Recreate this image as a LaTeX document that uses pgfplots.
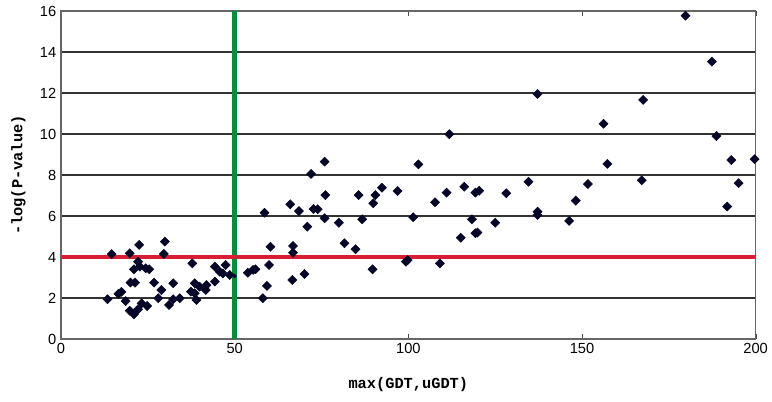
\documentclass[border=0pt]{standalone}
\usepackage{fontspec}
\setmainfont{Liberation Sans}
\newfontfamily\labfont{Liberation Mono}
\usepackage{pgfplots}
\pgfplotsset{compat=1.18}
\definecolor{mk}{RGB}{5,5,40}
\definecolor{gline}{RGB}{10,140,60}
\definecolor{rline}{RGB}{215,30,50}
\begin{document}
\begin{tikzpicture}
\useasboundingbox (-45.75pt,-47.25pt) rectangle (533.25pt,254.25pt);
\begin{axis}[
  scale only axis, width=521pt, height=246pt,
  xmin=0, xmax=200, ymin=0, ymax=16,
  xtick={0,50,100,150,200}, ytick={0,2,...,16},
  ymajorgrids, grid style={black!80, line width=0.8pt},
  axis line style={black!60, line width=0.8pt},
  tick style={black!70},
  xtick align=inside, ytick style={draw=none},
  major tick length=4pt,
  /pgf/number format/assume math mode=true,
  tick label style={font=\fontsize{11}{12}\selectfont},
  xlabel={\labfont\bfseries max(GDT,uGDT)},
  ylabel={\labfont\bfseries -log(P-value)},
  label style={font=\fontsize{11.5}{13}\selectfont},
  xlabel style={at={(axis description cs:0.5,-0.140)}, anchor=center},
  ylabel style={at={(axis description cs:-0.0614,0.5)}, anchor=center},
  clip=false,
]
\addplot[gline, line width=3.6pt] coordinates {(50,0) (50,16)};
\addplot[rline, line width=3pt] coordinates {(0,4) (200,4)};
\addplot[only marks, mark=square*, mark size=2.4pt, mark options={fill=mk, draw=mk, rotate=45}] coordinates {
(13.4,1.94) (14.6,4.14) (16.5,2.2) (17.4,2.3) (18.6,1.85) (19.8,4.18) (22.5,4.59)
(20.0,2.75) (21.3,2.75) (22.2,3.77) (21.0,3.4) (22.7,3.53) (24.4,3.45) (25.4,3.4)
(19.8,1.38) (21.0,1.2) (22.2,1.45) (23.2,1.74) (24.8,1.61) (26.8,2.75) (28.0,1.99)
(28.9,2.39) (29.9,4.75) (29.6,4.15) (31.1,1.66) (32.3,2.72) (32.3,1.94) (34.2,1.99)
(37.8,3.69) (37.4,2.31) (38.5,2.72) (39.0,1.9) (38.5,2.23) (39.9,2.55) (41.9,2.63)
(41.7,2.39) (44.3,2.8) (44.3,3.53) (45.7,3.28) (46.6,3.2) (47.4,3.61) (48.6,3.12)
(53.8,3.23) (55.3,3.37)
(75.9,8.65) (72.0,8.05) (76.1,7.02) (66.0,6.57) (68.5,6.24) (58.6,6.16) (72.7,6.34)
(73.9,6.33) (75.9,5.89) (70.9,5.48) (80.0,5.67) (85.7,7.02) (90.5,7.02) (89.9,6.62)
(86.7,5.84) (81.6,4.67) (84.8,4.38) (60.3,4.5) (66.8,4.54) (66.8,4.21) (59.9,3.61)
(56.0,3.4) (59.3,2.59) (58.1,1.99) (66.6,2.88) (70.1,3.17) (89.7,3.4)
(102.9,8.52) (92.4,7.38) (96.9,7.22) (111.0,7.14) (107.7,6.67) (116.1,7.43) (119.3,7.14)
(120.4,7.23) (101.4,5.94) (118.3,5.84) (125.0,5.67) (115.1,4.94) (119.3,5.16) (119.9,5.19)
(99.3,3.77) (99.8,3.85) (109.1,3.69) (111.8,9.99) (137.2,11.95) (128.2,7.11) (134.6,7.67)
(137.2,6.21) (137.2,6.05) (146.3,5.76) (148.2,6.75) (151.7,7.56)
(156.2,10.5) (157.3,8.54) (167.2,7.74) (179.8,15.77) (187.4,13.53) (167.6,11.66)
(188.7,9.9) (193.0,8.73) (199.7,8.77) (195.1,7.6) (191.8,6.46)
};
\addplot[only marks, mark=square*, mark size=1pt, mark options={fill=mk, draw=mk, rotate=45}] coordinates {(50.0,3.07)};
\end{axis}
\end{tikzpicture}
\end{document}
